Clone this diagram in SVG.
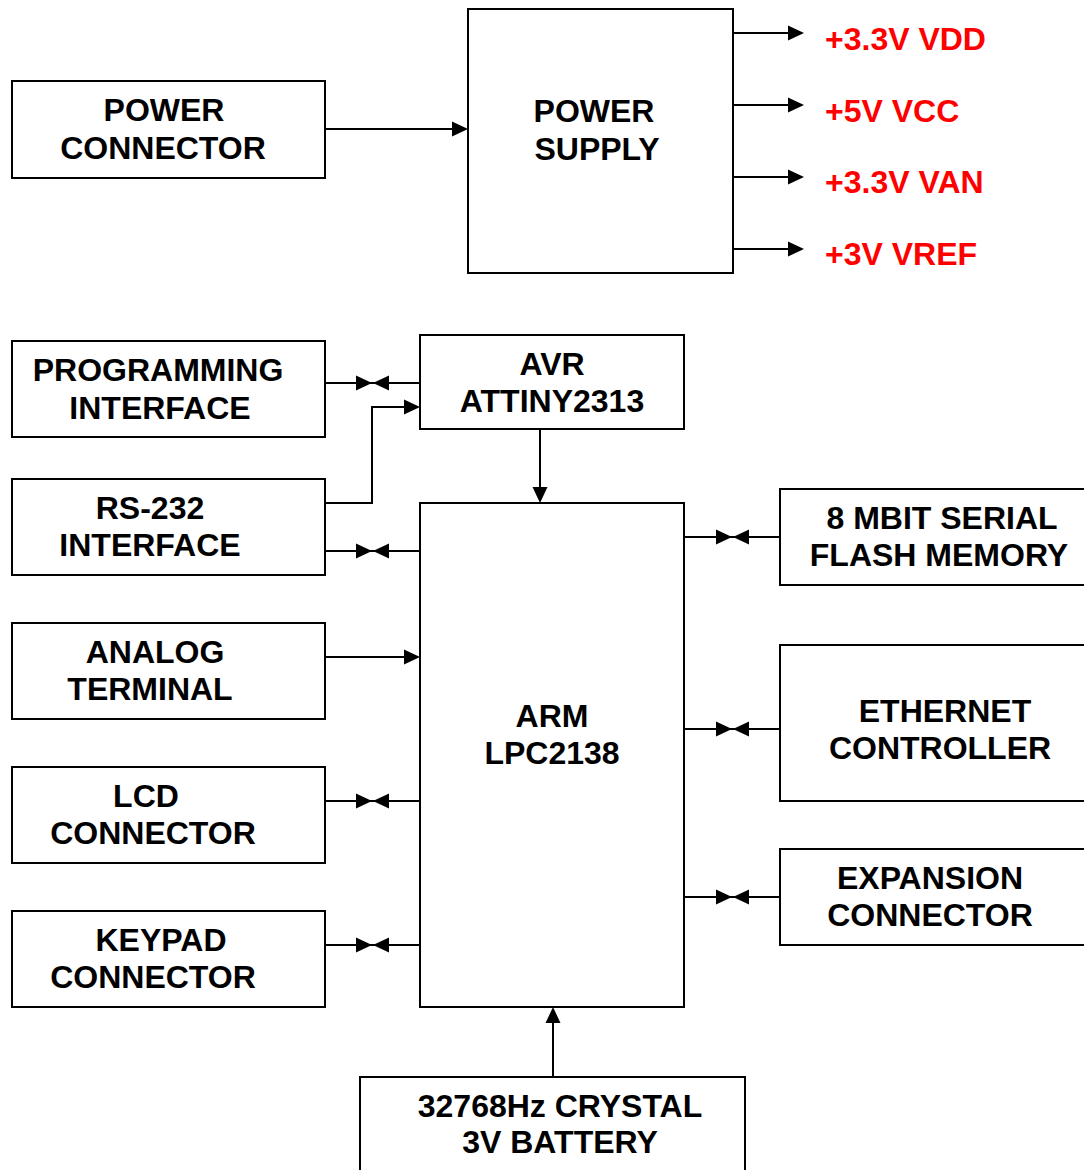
<svg xmlns="http://www.w3.org/2000/svg" xmlns:xlink="http://www.w3.org/1999/xlink" width="1084" height="1170" viewBox="0 0 1084 1170">
<style>
.box{fill:#fff;stroke:#000;stroke-width:2}
.t{font-family:"Liberation Sans",Arial,sans-serif;font-weight:bold;font-size:32px;fill:#000;text-anchor:middle}
.r{font-family:"Liberation Sans",Arial,sans-serif;font-weight:bold;font-size:32px;fill:#ff0000}
.ln{fill:none;stroke:#000;stroke-width:2}
</style>
<defs>
<path id="ah" d="M-16,-7.5 L0,0 L-16,7.5 Z" fill="#000"/>
</defs>
<rect width="1084" height="1170" fill="#fff"/>
<g id="connectors">
<line class="ln" x1="325" y1="129" x2="455" y2="129"/><use xlink:href="#ah" transform="translate(468,129)"/>
<line class="ln" x1="733" y1="33" x2="792" y2="33"/><use xlink:href="#ah" transform="translate(804,33)"/>
<line class="ln" x1="733" y1="105" x2="792" y2="105"/><use xlink:href="#ah" transform="translate(804,105)"/>
<line class="ln" x1="733" y1="177" x2="792" y2="177"/><use xlink:href="#ah" transform="translate(804,177)"/>
<line class="ln" x1="733" y1="249" x2="792" y2="249"/><use xlink:href="#ah" transform="translate(804,249)"/>
<line class="ln" x1="325" y1="383" x2="420" y2="383"/><use xlink:href="#ah" transform="translate(372,383)"/><use xlink:href="#ah" transform="translate(373,383) rotate(180)"/>
<polyline class="ln" points="325,503 372,503 372,407 408,407"/><use xlink:href="#ah" transform="translate(420,407)"/>
<line class="ln" x1="325" y1="551" x2="420" y2="551"/><use xlink:href="#ah" transform="translate(372,551)"/><use xlink:href="#ah" transform="translate(373,551) rotate(180)"/>
<line class="ln" x1="540" y1="429" x2="540" y2="490"/><use xlink:href="#ah" transform="translate(540,503) rotate(90)"/>
<line class="ln" x1="325" y1="657" x2="408" y2="657"/><use xlink:href="#ah" transform="translate(420,657)"/>
<line class="ln" x1="325" y1="801" x2="420" y2="801"/><use xlink:href="#ah" transform="translate(372,801)"/><use xlink:href="#ah" transform="translate(373,801) rotate(180)"/>
<line class="ln" x1="325" y1="945" x2="420" y2="945"/><use xlink:href="#ah" transform="translate(372,945)"/><use xlink:href="#ah" transform="translate(373,945) rotate(180)"/>
<line class="ln" x1="684" y1="537" x2="780" y2="537"/><use xlink:href="#ah" transform="translate(732,537)"/><use xlink:href="#ah" transform="translate(733,537) rotate(180)"/>
<line class="ln" x1="684" y1="729" x2="780" y2="729"/><use xlink:href="#ah" transform="translate(732,729)"/><use xlink:href="#ah" transform="translate(733,729) rotate(180)"/>
<line class="ln" x1="684" y1="897" x2="780" y2="897"/><use xlink:href="#ah" transform="translate(732,897)"/><use xlink:href="#ah" transform="translate(733,897) rotate(180)"/>
<line class="ln" x1="553" y1="1077" x2="553" y2="1020"/><use xlink:href="#ah" transform="translate(553,1007) rotate(-90)"/>
</g>
<g id="power-connector"><rect class="box" x="12" y="81" width="313" height="97"/><text class="t" x="164" y="121">POWER</text><text class="t" x="163" y="159">CONNECTOR</text></g>
<g id="power-supply"><rect class="box" x="468" y="9" width="265" height="264"/><text class="t" x="594" y="122">POWER</text><text class="t" x="597" y="160">SUPPLY</text></g>
<g id="rails">
<text class="r" x="825" y="50">+3.3V VDD</text>
<text class="r" x="825" y="122">+5V VCC</text>
<text class="r" x="825" y="193">+3.3V VAN</text>
<text class="r" x="825" y="265">+3V VREF</text>
</g>
<g id="programming-interface"><rect class="box" x="12" y="341" width="313" height="96"/><text class="t" x="158" y="381">PROGRAMMING</text><text class="t" x="160" y="419">INTERFACE</text></g>
<g id="avr"><rect class="box" x="420" y="335" width="264" height="94"/><text class="t" x="552" y="375">AVR</text><text class="t" x="552" y="412">ATTINY2313</text></g>
<g id="rs232"><rect class="box" x="12" y="479" width="313" height="96"/><text class="t" x="150" y="519">RS-232</text><text class="t" x="150" y="556">INTERFACE</text></g>
<g id="analog-terminal"><rect class="box" x="12" y="623" width="313" height="96"/><text class="t" x="155" y="663">ANALOG</text><text class="t" x="150" y="700">TERMINAL</text></g>
<g id="lcd-connector"><rect class="box" x="12" y="767" width="313" height="96"/><text class="t" x="146" y="807">LCD</text><text class="t" x="153" y="844">CONNECTOR</text></g>
<g id="keypad-connector"><rect class="box" x="12" y="911" width="313" height="96"/><text class="t" x="161" y="951">KEYPAD</text><text class="t" x="153" y="988">CONNECTOR</text></g>
<g id="arm"><rect class="box" x="420" y="503" width="264" height="504"/><text class="t" x="552" y="727">ARM</text><text class="t" x="552" y="764">LPC2138</text></g>
<g id="flash"><rect class="box" x="780" y="489" width="320" height="96"/><text class="t" x="942" y="529">8 MBIT SERIAL</text><text class="t" x="939" y="566">FLASH MEMORY</text></g>
<g id="ethernet"><rect class="box" x="780" y="645" width="320" height="156"/><text class="t" x="945" y="722">ETHERNET</text><text class="t" x="940" y="759">CONTROLLER</text></g>
<g id="expansion"><rect class="box" x="780" y="849" width="320" height="96"/><text class="t" x="930" y="889">EXPANSION</text><text class="t" x="930" y="926">CONNECTOR</text></g>
<g id="crystal"><rect class="box" x="360" y="1077" width="385" height="110"/><text class="t" x="560" y="1117">32768Hz CRYSTAL</text><text class="t" x="560" y="1153">3V BATTERY</text></g>
</svg>
